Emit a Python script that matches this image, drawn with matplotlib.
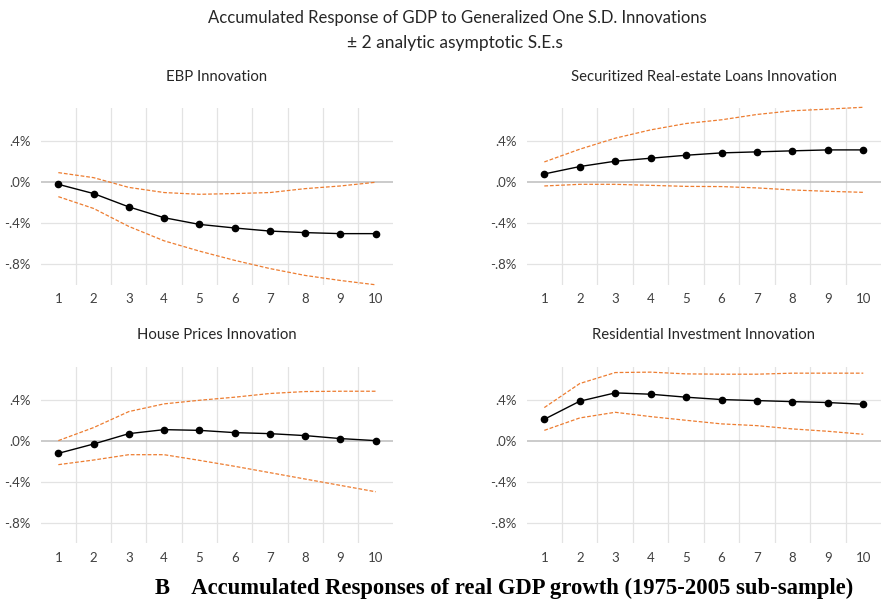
import matplotlib
matplotlib.use("Agg")
import matplotlib.pyplot as plt
from matplotlib.ticker import FixedLocator

periods = [1, 2, 3, 4, 5, 6, 7, 8, 9, 10]
titles = ["EBP Innovation", "Securitized Real-estate Loans Innovation",
          "House Prices Innovation", "Residential Investment Innovation"]

ebp_resp = [-0.02, -0.11, -0.24, -0.345, -0.41, -0.445, -0.475, -0.49, -0.50, -0.50]
ebp_up = [0.094, 0.045, -0.05, -0.10, -0.117, -0.11, -0.10, -0.062, -0.036, 0.0]
ebp_lo = [-0.14, -0.255, -0.43, -0.57, -0.67, -0.76, -0.84, -0.907, -0.956, -0.998]

sec_resp = [0.081, 0.153, 0.205, 0.234, 0.263, 0.286, 0.296, 0.306, 0.315, 0.315]
sec_up = [0.198, 0.322, 0.429, 0.51, 0.572, 0.608, 0.66, 0.696, 0.712, 0.73]
sec_lo = [-0.036, -0.02, -0.02, -0.03, -0.04, -0.042, -0.055, -0.075, -0.088, -0.098]

hp_resp = [-0.124, -0.033, 0.068, 0.107, 0.10, 0.078, 0.068, 0.049, 0.02, 0.0]
hp_up = [0.0, 0.127, 0.283, 0.358, 0.393, 0.423, 0.459, 0.478, 0.481, 0.481]
hp_lo = [-0.234, -0.189, -0.137, -0.137, -0.192, -0.25, -0.312, -0.374, -0.436, -0.498]

ri_resp = [0.208, 0.384, 0.465, 0.452, 0.423, 0.40, 0.39, 0.38, 0.371, 0.354]
ri_up = [0.322, 0.556, 0.663, 0.667, 0.65, 0.647, 0.647, 0.657, 0.657, 0.657]
ri_lo = [0.10, 0.221, 0.276, 0.234, 0.198, 0.163, 0.146, 0.114, 0.091, 0.062]

yticks = [0.4, 0.0, -0.4, -0.8]
ytick_labels = [".4%", ".0%", "-.4%", "-.8%"]

series = [(ebp_resp, ebp_up, ebp_lo), (sec_resp, sec_up, sec_lo),
          (hp_resp, hp_up, hp_lo), (ri_resp, ri_up, ri_lo)]

FONT = "Lato"
fig = plt.figure(figsize=(8.89, 6.02), dpi=100)

W, H = 889, 602
boxes = [(40.7, 108.3, 393.3, 285.0), (526.6, 108.3, 881.0, 285.0),
         (40.7, 366.7, 393.3, 543.3), (526.6, 366.7, 881.0, 543.3)]

orange = "#ED7D31"
tickc = "#404040"
for (x0, y0, x1, y1), title, (resp, up, lo) in zip(boxes, titles, series):
    ax = fig.add_axes([x0 / W, 1 - y1 / H, (x1 - x0) / W, (y1 - y0) / H])
    ax.set_xlim(0.5, 10.5)
    ax.set_ylim(-1.0, 0.72)
    for s in ax.spines.values():
        s.set_visible(False)
    for b in [1.5 + i for i in range(9)]:
        ax.axvline(b, color="#e3e3e3", lw=0.9, zorder=0)
    for yt in yticks:
        if yt == 0.0:
            ax.axhline(yt, color="#bdbdbd", lw=1.1, zorder=1)
        else:
            ax.axhline(yt, color="#e3e3e3", lw=0.9, zorder=0)
    ax.plot(periods, up, color=orange, lw=0.9, ls=(0, (3, 1.5)), zorder=2, clip_on=False)
    ax.plot(periods, lo, color=orange, lw=0.9, ls=(0, (3, 1.5)), zorder=2, clip_on=False)
    ax.plot(periods, resp, color="black", lw=1.0, marker="o", ms=4.5, zorder=3, clip_on=False)
    ax.xaxis.set_major_locator(FixedLocator(periods))
    ax.set_xticklabels([str(p) for p in periods], fontsize=9.5, color=tickc, family=FONT)
    ax.set_yticks(yticks)
    ax.set_yticklabels(ytick_labels, fontsize=9.5, color=tickc, family=FONT)
    ax.tick_params(length=0, pad=6)
    ax.tick_params(axis="y", pad=7)
    ax.set_title(title, fontsize=10.7, color="#262626", family=FONT, pad=20)

fig.text(457.5 / W, 1 - 18 / H, "Accumulated Response of GDP to Generalized One S.D. Innovations",
         ha="center", va="center", fontsize=12, color="#262626", family=FONT)
fig.text(455 / W, 1 - 43 / H, "\u00b1 2 analytic asymptotic S.E.s",
         ha="center", va="center", fontsize=12.5, color="#262626", family=FONT)
fig.text(504 / W, 1 - 588 / H, "B    Accumulated Responses of real GDP growth (1975-2005 sub-sample)",
         ha="center", va="center", fontsize=16.3, fontweight="bold", color="black",
         family="Liberation Serif")

fig.savefig("out.png", dpi=100)
